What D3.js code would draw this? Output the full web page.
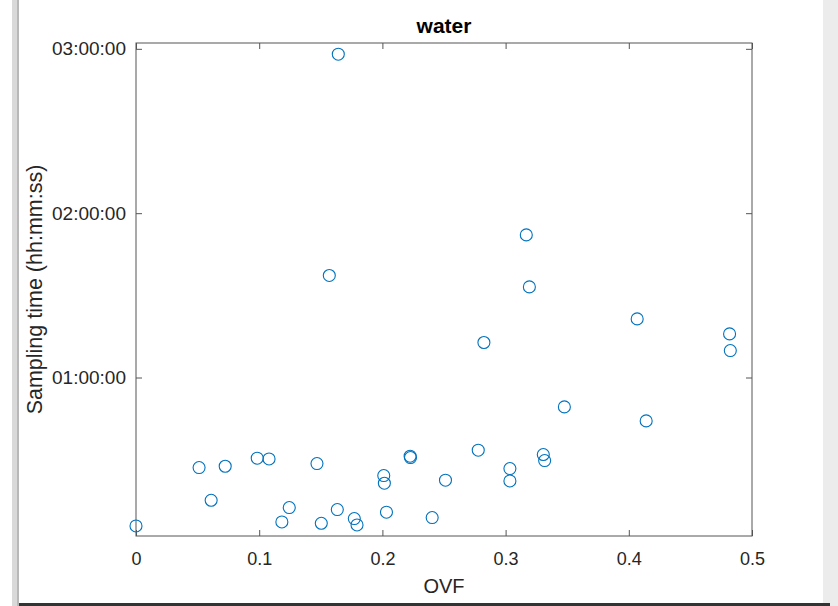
<!DOCTYPE html>
<html>
<head>
<meta charset="utf-8">
<script src="https://cdn.jsdelivr.net/npm/d3@7"></script>
<style>
  html, body { margin: 0; padding: 0; background: #fff; }
  #container { width: 838px; height: 606px; position: relative; overflow: hidden; }
  text { font-family: "Liberation Sans", Arial, Helvetica, sans-serif; fill: #262626; }
</style>
</head>
<body>
<div id="container"></div>
<script>
// OVF (x) and sampling time (y)
const ovf = [0.000, 0.0512, 0.0610, 0.0724, 0.0984, 0.108, 0.1184, 0.1244, 0.1469, 0.1504,
  0.1569, 0.1642, 0.1634, 0.1772, 0.1794, 0.2011, 0.2016, 0.2033, 0.2225, 0.2228,
  0.2404, 0.2512, 0.2778, 0.2824, 0.3035, 0.3035, 0.3168, 0.3193, 0.3306, 0.3317,
  0.3477, 0.4068, 0.4141, 0.4818, 0.4824];
const samplingTime = ["00:05:48", "00:27:08", "00:15:11", "00:27:36", "00:30:32", "00:30:16", "00:07:16", "00:12:31", "00:28:35", "00:06:47",
  "01:37:15", "02:58:03", "00:11:47", "00:08:30", "00:06:10", "00:24:12", "00:21:24", "00:10:49", "00:31:16", "00:30:47",
  "00:08:52", "00:22:30", "00:33:27", "01:12:47", "00:26:46", "00:22:14", "01:52:04", "01:33:05", "00:31:53", "00:29:41",
  "00:49:16", "01:21:24", "00:44:09", "01:15:55", "01:09:51"];
const xTicks = [0, 0.1, 0.2, 0.3, 0.4, 0.5];
const yTicks = ["01:00:00", "02:00:00", "03:00:00"];

const toSec = (s) => {
  const p = s.split(":").map(Number);
  return p[0] * 3600 + p[1] * 60 + p[2];
};

const w = 838;
const h = 606;
const pad = { top: 43, bottom: 70, left: 136, right: 86 };

const svg = d3.select("#container").append("svg")
  .attr("width", w)
  .attr("height", h);

// window frame / shadow
svg.append("rect").attr("x", 12).attr("y", 0).attr("width", 7).attr("height", h).attr("fill", "#d9d9d9");
svg.append("rect").attr("x", 17).attr("y", 0).attr("width", 2).attr("height", h).attr("fill", "#b8b8b8");
svg.append("rect").attr("x", 823).attr("y", 0).attr("width", 15).attr("height", h).attr("fill", "#ececec");
svg.append("rect").attr("x", 19).attr("y", 603).attr("width", 811).attr("height", 3).attr("fill", "#333");

const x = d3.scaleLinear().domain([0, 0.5]).range([pad.left, w - pad.right]);
const y = d3.scaleLinear().domain([128, 10928]).range([h - pad.bottom, pad.top]);

const x0 = pad.left, x1 = w - pad.right, y0 = h - pad.bottom, y1 = pad.top;

const axisColor = "#555";
const tickLen = 6;

// bottom axis
const gx = svg.append("g")
  .attr("transform", `translate(0,${y0})`)
  .call(d3.axisBottom(x).tickValues(xTicks).tickSize(-tickLen).tickPadding(16)
    .tickFormat((d) => d === 0 ? "0" : d3.format(".1f")(d)));
gx.select(".domain").remove();
gx.selectAll("line").attr("stroke", axisColor);
gx.selectAll("text").style("font-size", "18px").attr("fill", "#262626");

// top ticks
const gxt = svg.append("g")
  .attr("transform", `translate(0,${y1})`)
  .call(d3.axisTop(x).tickValues(xTicks).tickSize(-tickLen).tickFormat(""));
gxt.select(".domain").remove();
gxt.selectAll("line").attr("stroke", axisColor);

// left axis
const gy = svg.append("g")
  .attr("transform", `translate(${x0},0)`)
  .call(d3.axisLeft(y).tickValues(yTicks.map(toSec)).tickSize(-tickLen).tickPadding(10)
    .tickFormat((d, i) => yTicks[i]));
gy.select(".domain").remove();
gy.selectAll("line").attr("stroke", axisColor);
gy.selectAll("text").style("font-size", "19px").attr("fill", "#262626");

// right ticks
const gyr = svg.append("g")
  .attr("transform", `translate(${x1},0)`)
  .call(d3.axisRight(y).tickValues(yTicks.map(toSec)).tickSize(-tickLen).tickFormat(""));
gyr.select(".domain").remove();
gyr.selectAll("line").attr("stroke", axisColor);

// box
svg.append("rect")
  .attr("x", x0).attr("y", y1)
  .attr("width", x1 - x0).attr("height", y0 - y1)
  .attr("fill", "none").attr("stroke", axisColor).attr("stroke-width", 1);

// points
svg.append("g")
  .selectAll("circle")
  .data(ovf)
  .enter()
  .append("circle")
  .attr("cx", (d) => x(d))
  .attr("cy", (d, i) => y(toSec(samplingTime[i])))
  .attr("r", 6)
  .attr("fill", "none")
  .attr("stroke", "#0072BD")
  .attr("stroke-width", 1.1);

// title and labels
svg.append("text")
  .attr("x", (x0 + x1) / 2)
  .attr("y", 33)
  .attr("text-anchor", "middle")
  .style("font-size", "21px")
  .style("font-weight", "bold")
  .style("fill", "#000")
  .text("water");

svg.append("text")
  .attr("x", (x0 + x1) / 2)
  .attr("y", 593)
  .attr("text-anchor", "middle")
  .style("font-size", "20px")
  .text("OVF");

svg.append("text")
  .attr("transform", `translate(42,${(y0 + y1) / 2}) rotate(-90)`)
  .attr("text-anchor", "middle")
  .style("font-size", "21.5px")
  .text("Sampling time (hh:mm:ss)");
</script>
</body>
</html>
